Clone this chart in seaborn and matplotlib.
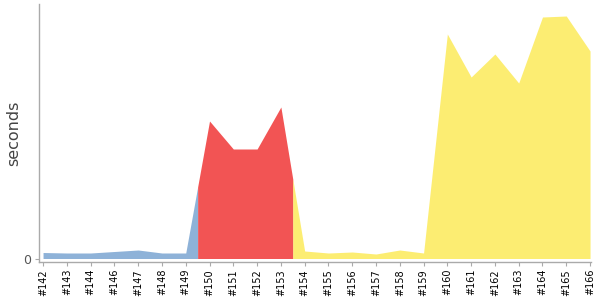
import numpy as np
import matplotlib
matplotlib.use("Agg")
import matplotlib.pyplot as plt
import seaborn as sns

builds = ["#142", "#143", "#144", "#146", "#147", "#148", "#149", "#150",
          "#151", "#152", "#153", "#154", "#155", "#156", "#157", "#158",
          "#159", "#160", "#161", "#162", "#163", "#164", "#165", "#166"]
durations = [6, 5.5, 5.5, 7, 8.5, 5.5, 5.5, 137.5,
             109.5, 109.5, 151.5, 7.5, 5.5, 6.5, 4.5, 8.5,
             5.5, 224.5, 181.5, 204.5, 175.5, 241.5, 242.5, 207.5]
statuses = ["success"] * 7 + ["failure"] * 4 + ["unstable"] * 13
status_colors = {"success": "#729FCF", "failure": "#EF2929", "unstable": "#FCE94F"}

sns.set_style("white")
fig = plt.figure(figsize=(6, 3), dpi=100)
ax = fig.add_axes([39 / 600, 1 - 262 / 300, 552 / 600, 258 / 300])

x = np.arange(len(builds))
y = np.array(durations, dtype=float)

# split into runs of equal status, boundaries at midpoints
runs = []
start = 0
for i in range(1, len(statuses) + 1):
    if i == len(statuses) or statuses[i] != statuses[start]:
        runs.append((start, i - 1, statuses[start]))
        start = i
for s, e, st in runs:
    lo = max(0, s - 0.5)
    hi = min(len(x) - 1, e + 0.5)
    xs = np.concatenate([[lo], x[(x > lo) & (x < hi)], [hi]])
    ys = np.interp(xs, x, y)
    ax.fill_between(xs, 0, ys, color=status_colors[st], alpha=0.8, linewidth=0)

ax.set_xlim(-0.17, 23.04)
ax.set_ylim(-3.5, 254.5)
ax.set_xticks(x)
ax.set_xticklabels(builds, rotation=90, fontsize=7, color="black")
ax.set_yticks([0])
ax.set_yticklabels(["0"], fontsize=9, color="#555555")
ax.set_ylabel("seconds", fontsize=11.5, color="#444444", labelpad=0)
ax.yaxis.set_label_coords(-0.033, 0.5)

for side in ["top", "right"]:
    ax.spines[side].set_visible(False)
for side in ["left", "bottom"]:
    ax.spines[side].set_color("#aaaaaa")
    ax.spines[side].set_linewidth(1)
ax.tick_params(axis="x", length=3, width=0.8, color="#aaaaaa", pad=2, bottom=True)
ax.tick_params(axis="y", length=3, width=0.8, color="#aaaaaa", pad=3, left=True)

fig.savefig("out.png", dpi=100)
